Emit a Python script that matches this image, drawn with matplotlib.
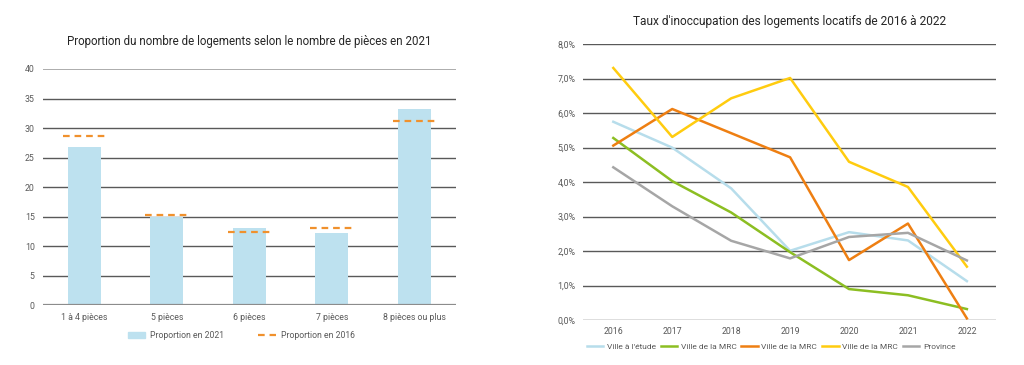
import matplotlib.pyplot as plt
from matplotlib.lines import Line2D
from matplotlib.patches import Patch
import numpy as np

plt.rcParams['font.family'] = ['Roboto', 'DejaVu Sans']

# Données - graphique de gauche
pieces = ["1 à 4 pièces", "5 pièces", "6 pièces", "7 pièces", "8 pièces ou plus"]
prop_2021 = [26.8, 15.0, 13.0, 12.3, 33.2]
prop_2016 = [28.6, 15.3, 12.4, 13.0, 31.2]

# Données - graphique de droite (taux d'inoccupation, %)
annees = ["2016", "2017", "2018", "2019", "2020", "2021", "2022"]
ville_etude = [5.75, 5.00, 3.82, 2.01, 2.55, 2.31, 1.13]
mrc_vert = [5.28, 4.03, 3.12, 1.97, 0.90, 0.72, 0.32]
mrc_orange = [5.06, 6.12, 5.42, 4.72, 1.74, 2.80, 0.05]
mrc_jaune = [7.31, 5.31, 6.43, 7.02, 4.59, 3.86, 1.55]
province = [4.43, 3.30, 2.30, 1.79, 2.41, 2.53, 1.73]

series = [
    ("Ville à l'étude", ville_etude, "#B7DDEB"),
    ("Ville de la MRC", mrc_vert, "#8CBE22"),
    ("Ville de la MRC", mrc_orange, "#EE7F12"),
    ("Ville de la MRC", mrc_jaune, "#FFCC0F"),
    ("Province", province, "#A6A6A6"),
]

txt = "#595959"
grid_c = "#595959"

fig = plt.figure(figsize=(10.24, 3.65), dpi=100)

# --- Graphique de gauche ---
ax1 = fig.add_axes([0.042, 0.164, 0.403, 0.647])
x = np.arange(len(pieces))
ax1.bar(x, prop_2021, width=0.4, color="#BDE1EF", zorder=2)
for xi, v in zip(x, prop_2016):
    ax1.plot([xi - 0.26, xi + 0.26], [v, v], color="#F0912D", lw=1.6,
             dashes=(3, 2.2), zorder=3)
ax1.set_xlim(-0.5, len(pieces) - 0.5)
ax1.set_ylim(0, 40)
ax1.set_yticks(range(0, 41, 5))
for yv in range(5, 40, 5):
    ax1.axhline(yv, color=grid_c, lw=1.0, zorder=1)
ax1.axhline(40, color="#A6A6A6", lw=1.3, zorder=1)
ax1.axhline(0, color="#8C8C8C", lw=1.6, zorder=4)
ax1.set_xticks(x)
ax1.set_xticklabels(pieces)
for s in ax1.spines.values():
    s.set_visible(False)
ax1.tick_params(length=0, labelsize=6.3, colors=txt, pad=6)
ax1.set_title("Proportion du nombre de logements selon le nombre de pièces en 2021",
              fontsize=8.3, color="#262626", pad=17)
handles1 = [Patch(color="#BDE1EF", label="Proportion en 2021"),
            Line2D([], [], color="#F0912D", lw=1.6, dashes=(3, 2.2),
                   label="Proportion en 2016")]
ax1.legend(handles=handles1, loc="upper center", bbox_to_anchor=(0.48, -0.075),
           ncol=2, frameon=False, fontsize=6.2, handlelength=2.0,
           handletextpad=0.6, columnspacing=4, labelcolor=txt)

# --- Graphique de droite ---
ax2 = fig.add_axes([0.569, 0.123, 0.404, 0.756])
xa = np.arange(len(annees))
for nom, vals, col in series:
    ax2.plot(xa, vals, color=col, lw=1.8, label=nom, zorder=3)
ax2.set_xlim(-0.52, len(annees) - 0.5)
ax2.set_ylim(0, 8)
ax2.set_yticks(range(0, 9))
ax2.set_yticklabels([f"{v},0%" for v in range(0, 9)])
for yv in range(0, 9):
    ax2.axhline(yv, color=grid_c, lw=1.0, zorder=1)
ax2.set_xticks(xa)
ax2.set_xticklabels(annees)
for s in ax2.spines.values():
    s.set_visible(False)
ax2.tick_params(length=0, labelsize=6.3, colors=txt, pad=5)
ax2.set_title("Taux d'inoccupation des logements locatifs de 2016 à 2022",
              fontsize=8.6, color="#262626", pad=14)
ax2.legend(loc="upper center", bbox_to_anchor=(0.455, -0.055), ncol=5,
           frameon=False, fontsize=6.0, handlelength=2.0, handletextpad=0.4,
           columnspacing=0.6, labelcolor=txt)

plt.savefig("out.png", dpi=100)
